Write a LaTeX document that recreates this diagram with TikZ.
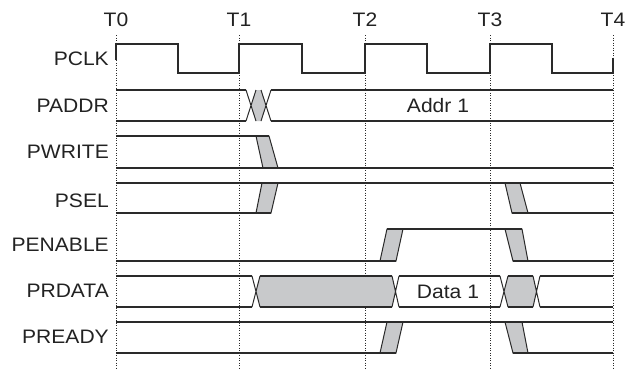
\documentclass[tikz,border=0pt]{standalone}
\usepackage{fontspec}
\setmainfont{Liberation Sans}[FakeStretch=1.08]
\definecolor{ln}{HTML}{2A2A2A}
\definecolor{gr}{HTML}{C8C9CB}
\definecolor{txt}{HTML}{222222}
\begin{document}
\begin{tikzpicture}[x=1pt,y=-1pt,
  sig/.style={font=\fontsize{19.5}{23}\selectfont, text=txt, anchor=base east, inner sep=0pt},
  tlab/.style={font=\fontsize{19.5}{23}\selectfont, text=txt, anchor=base, inner sep=0pt},
  vlab/.style={font=\fontsize{19.5}{23}\selectfont, text=txt, anchor=base, inner sep=0pt},
  wthick/.style={draw=ln, line width=2.1pt, line join=miter},
  wthin/.style={draw=ln, line width=1.3pt},
  xline/.style={draw=ln, line width=1pt},
  band/.style={fill=gr, draw=ln, line width=1pt},
  tickline/.style={draw=ln, line width=0.9pt, dash pattern=on 1.2pt off 1.3pt}]
\useasboundingbox (0,0) rectangle (625,368);

% time markers
\foreach \x/\n in {116/0,239/1,365/2,490/3,613/4}{
  \coordinate (t\n) at (\x,35);
  \coordinate (b\n) at (\x,368);
  \draw[tickline] (t\n) -- (b\n);
  \node[tlab] (T\n) at (\x,26) {T\n};
}

% signal labels
\node[sig] (lpclk) at (109,65) {PCLK};
\node[sig] (lpaddr) at (109,112) {PADDR};
\node[sig] (lpwrite) at (109,158.5) {PWRITE};
\node[sig] (lpsel) at (109,207) {PSEL};
\node[sig] (lpenable) at (109,251.5) {PENABLE};
\node[sig] (lprdata) at (109,297) {PRDATA};
\node[sig] (lpready) at (109,343.5) {PREADY};

% PCLK
\draw[wthick] (116,60) -- (116,44) -- (178,44) -- (178,73) -- (239,73) -- (239,44)
  -- (302,44) -- (302,73) -- (365,73) -- (365,44) -- (427,44) -- (427,73)
  -- (490,73) -- (490,44) -- (552,44) -- (552,73) -- (613,73) -- (613,58);

% PADDR
\fill[gr] (251,105.5) -- (256,90) -- (261,90) -- (266,105.5) -- (261,121) -- (256,121) -- cycle;
\draw[xline] (246,90) -- (256,121) (246,121) -- (256,90)
             (261,90) -- (271,121) (261,121) -- (271,90);
\draw[wthick] (116,90) -- (246,90) (271,90) -- (613,90);
\draw[wthick, line width=2.4pt] (116,121) -- (246,121) (271,121) -- (613,121);
\node[vlab] (addr) at (438,112) {Addr 1};

% PWRITE
\draw[band] (256,136) -- (269,136) -- (278,168) -- (263,168) -- cycle;
\draw[wthick, line width=1.8pt] (116,136) -- (269,136);
\draw[wthin] (116,168) -- (613,168);

% PSEL
\draw[band] (256,213) -- (271,213) -- (278,183) -- (262,183) -- cycle;
\draw[band] (505,183) -- (520,183) -- (528,213) -- (512,213) -- cycle;
\draw[wthick] (116,183) -- (613,183);
\draw[wthick] (116,213) -- (271,213) (512,213) -- (613,213);

% PENABLE
\draw[band] (380,261) -- (396,261) -- (403,229) -- (387,229) -- cycle;
\draw[band] (505,229) -- (522,229) -- (528,261) -- (513,261) -- cycle;
\draw[wthin] (116,261) -- (396,261) (513,261) -- (613,261);
\draw[wthin] (387,229) -- (522,229);

% PRDATA
\fill[gr] (256,291.5) -- (260,276) -- (392,276) -- (396,291.5) -- (392,307) -- (260,307) -- cycle;
\fill[gr] (504,291.5) -- (508,276) -- (533,276) -- (537,291.5) -- (533,307) -- (508,307) -- cycle;
\draw[xline] (252,276) -- (260,307) (252,307) -- (260,276)
             (392,276) -- (399,307) (392,307) -- (399,276)
             (500,276) -- (508,307) (500,307) -- (508,276)
             (533,276) -- (540,307) (533,307) -- (540,276);
\draw[wthick] (116,276) -- (252,276) (260,276) -- (392,276) (399,276) -- (500,276)
              (508,276) -- (533,276) (540,276) -- (613,276);
\draw[wthick, line width=1.8pt] (116,307) -- (252,307) (260,307) -- (392,307) (399,307) -- (500,307)
              (508,307) -- (533,307) (540,307) -- (613,307);
\node[vlab] (data) at (448,298) {Data 1};

% PREADY
\draw[band] (380,353) -- (396,353) -- (403,322) -- (387,322) -- cycle;
\draw[band] (505,322) -- (522,322) -- (528,353) -- (513,353) -- cycle;
\draw[wthin] (116,322) -- (613,322);
\draw[wthick] (116,353) -- (396,353) (513,353) -- (613,353);
\end{tikzpicture}
\end{document}
